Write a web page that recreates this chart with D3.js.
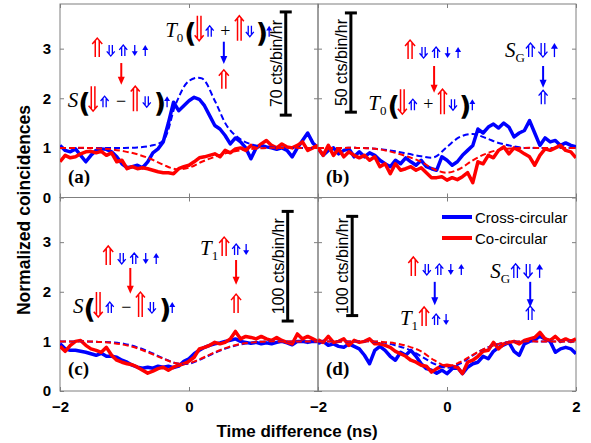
<!DOCTYPE html>
<html>
<head>
<meta charset="utf-8">
<script src="https://cdn.jsdelivr.net/npm/d3@7"></script>
<style>
body { margin: 0; background: #fff; }
svg { display: block; }
</style>
</head>
<body>
<svg id="chart"></svg>
<script>
// time axis of the measured traces and of the model curves (ns)
const tData = d3.range(0, 51).map(i => -2 + i * 0.08)
const tFit = d3.range(0, 21).map(i => -2 + i * 0.2)

// (a)
const aCross = [1.05,0.95,0.92,0.98,0.85,0.72,0.85,0.95,0.98,0.97,0.92,0.82,0.68,0.6,0.62,0.65,0.6,0.72,0.9,0.98,1.12,1.5,1.92,1.75,1.85,1.95,2.02,1.98,1.85,1.65,1.45,1.38,1.25,1.08,1.2,1.12,1.0,0.78,1.0,1.05,1.02,1.0,0.97,1.0,0.95,0.82,1.0,1.15,1.3,1.1,1.0]
const aCo = [0.72,0.85,0.8,0.82,0.88,0.92,0.93,0.9,0.93,0.85,0.9,0.72,0.75,0.58,0.62,0.58,0.6,0.58,0.55,0.52,0.5,0.5,0.48,0.58,0.62,0.65,0.72,0.8,0.82,0.85,0.88,0.82,0.95,0.9,0.98,1.0,0.95,1.05,1.0,1.08,1.15,1.05,1.0,1.08,1.02,1.0,1.05,1.12,0.95,1.0,1.05]
const aCrossFit = [1,1,1,1,1,1,1.01,1.04,1.15,1.9,2.35,2.4,1.95,1.42,1.17,1.06,1.02,1,1,1,1]
const aCoFit = [1,1,1,0.99,0.97,0.93,0.87,0.78,0.66,0.57,0.6,0.72,0.82,0.9,0.95,0.98,1,1,1,1,1]

// (b)
const bCross = [1.0,0.85,0.95,1.0,0.88,0.95,0.98,0.82,0.92,0.82,0.9,0.85,0.75,0.68,0.62,0.75,0.68,0.8,0.72,0.65,0.75,0.62,0.58,0.55,0.82,0.75,0.65,0.72,0.85,0.95,1.05,1.38,1.3,1.42,1.48,1.4,1.5,1.42,1.22,1.3,1.35,1.55,1.3,1.05,1.2,1.12,1.15,1.05,1.1,1.05,1.02]
const bCo = [1.0,0.85,1.05,0.85,0.98,0.82,0.92,0.85,0.8,0.85,0.75,0.82,0.62,0.68,0.48,0.68,0.55,0.58,0.62,0.55,0.6,0.5,0.4,0.4,0.42,0.35,0.4,0.36,0.42,0.5,0.3,0.72,0.68,0.85,0.8,0.95,1.02,0.88,1.0,0.95,0.88,0.82,0.65,0.85,0.98,0.95,1.0,1.05,0.95,0.92,0.8]
const bCrossFit = [1,1,1,1,0.99,0.97,0.93,0.88,0.83,0.81,1.02,1.22,1.28,1.2,1.1,1.04,1,1,1,1,1]
const bCoFit = [1,1,1,1,0.99,0.96,0.9,0.82,0.72,0.57,0.5,0.58,0.75,0.88,0.96,0.99,1,1,1,1,1]

// (c)
const cCross = [0.95,0.85,0.82,0.82,0.8,0.78,0.75,0.72,0.76,0.7,0.7,0.68,0.62,0.58,0.52,0.48,0.46,0.48,0.46,0.5,0.48,0.5,0.47,0.5,0.6,0.65,0.75,0.82,0.88,0.92,0.95,0.97,1.0,1.02,1.05,1.0,0.98,0.96,0.98,0.95,0.97,0.95,0.98,1.0,0.97,0.93,1.0,1.0,0.98,1.0,1.0]
const cCo = [0.9,0.8,0.92,1.0,1.02,0.92,0.85,0.82,0.78,0.88,0.72,0.62,0.58,0.55,0.53,0.48,0.42,0.36,0.4,0.45,0.48,0.42,0.48,0.52,0.55,0.6,0.68,0.85,0.88,0.92,0.98,0.95,0.98,1.05,1.2,1.05,1.1,1.08,1.05,1.1,1.05,1.02,1.08,1.02,0.98,0.95,1.15,1.05,1.1,1.05,1.0]
const cCrossFit = [1,1,1,0.99,0.98,0.95,0.88,0.78,0.66,0.56,0.55,0.65,0.77,0.87,0.94,0.98,1,1,1,1,1]
const cCoFit = [1,1,1,0.99,0.97,0.93,0.86,0.76,0.65,0.56,0.56,0.66,0.78,0.88,0.95,0.98,1,1,1,1,1]

// (d)
const dCross = [0.96,1.0,0.92,0.95,0.9,0.88,0.95,0.9,0.85,0.72,0.55,0.82,0.9,0.82,0.7,0.62,0.78,0.72,0.82,0.7,0.55,0.45,0.42,0.36,0.42,0.35,0.45,0.48,0.35,0.48,0.55,0.58,0.7,0.65,0.8,0.88,0.93,0.98,0.8,0.72,0.95,1.0,1.03,1.1,1.05,1.0,0.78,0.85,0.88,0.85,0.75]
const dCo = [1.03,0.98,1.1,0.98,1.0,1.05,0.92,1.02,0.98,1.0,1.05,0.95,0.95,0.92,0.88,0.8,0.75,0.7,0.62,0.58,0.52,0.5,0.38,0.45,0.5,0.52,0.5,0.48,0.35,0.58,0.62,0.7,0.8,0.82,0.98,0.85,0.95,0.98,1.0,0.95,1.02,1.05,1.08,1.18,1.05,1.02,1.1,1.0,1.05,1.0,1.05]
const dCrossFit = [1,1,1,1,1,0.98,0.92,0.84,0.7,0.55,0.47,0.55,0.72,0.86,0.95,0.99,1,1,1,1,1]
const dCoFit = [1,1,1,1,1,0.99,0.96,0.9,0.8,0.62,0.5,0.58,0.73,0.86,0.95,0.99,1,1,1,1,1]

const panelLetters = ["(a)", "(b)", "(c)", "(d)"]
const scaleLabels = ["70 cts/bin/hr", "50 cts/bin/hr", "100 cts/bin/hr", "100 cts/bin/hr"]
const seriesNames = ["Cross-circular", "Co-circular"]
const yTicks = [0, 1, 2, 3]

// spin-state rows: [glyph, style]
const rowInit = [["⇑", "R"], ["⇓", "b"], ["⇑", "b"], ["↓", "b"], ["↑", "b"]]
const rowS = [["S", "L"], ["(", "P"], ["⇓", "Rb"], ["⇑", "b"], ["−", "O"], ["⇑", "Rb"], ["⇓", "b"], [")", "P"], ["↑", "b"]]
const rowT0 = [["T", "L"], ["0", "s"], ["(", "P"], ["⇓", "Rb"], ["⇑", "b"], ["+", "O"], ["⇑", "Rb"], ["⇓", "b"], [")", "P"], ["↑", "b"]]
const rowT1 = [["T", "L"], ["1", "s"], ["⇑", "R"], ["⇑", "b"], ["↓", "b"]]
const rowSG = [["S", "L"], ["G", "s"], ["⇑", "B"], ["⇓", "B"], ["↑", "B"]]

const BLUE = "#0000ff"
const RED = "#ff0000"

const svgWidth = 591
const svgHeight = 443
const margin = { left: 60, top: 4, right: 15, bottom: 52 }
const pw = (svgWidth - margin.left - margin.right) / 2
const ph = (svgHeight - margin.top - margin.bottom) / 2

// arrows are drawn as paths, text pieces as text
const arrowStyle = {
    R: { color: RED, h: 19, w: 10, below: 1 },
    Rb: { color: RED, h: 25, w: 9, below: 4 },
    b: { color: BLUE, h: 11, w: 8, below: 0 },
    B: { color: BLUE, h: 14, w: 9, below: 0 }
}
const textStyle = {
    P: { font: "'DejaVu Sans'", size: 27, weight: "bold", dy: 5, after: -2 },
    L: { font: "'Liberation Serif'", size: 21, style: "italic", after: 0 },
    s: { font: "'Liberation Serif'", size: 13, dy: 5, after: 1 },
    O: { font: "'Liberation Serif'", size: 18, pad: 4.5, after: 0 }
}

const svg = d3.select("#chart")
    .attr("width", svgWidth)
    .attr("height", svgHeight)
    .style("font-family", "'Liberation Sans', Arial, sans-serif")

const x = d3.scaleLinear().domain([-2, 2]).range([0, pw])
const y = d3.scaleLinear().domain([0, 3.9]).range([ph, 0])

// draw one arrow glyph with its left edge at x0 and baseline at yb, return its width
function drawArrow(g, x0, yb, glyph, key) {
    const st = arrowStyle[key]
    const isDouble = glyph == "⇑" || glyph == "⇓"
    const up = glyph == "⇑" || glyph == "↑"
    const w = isDouble ? st.w : st.w - 2
    const xc = x0 + w / 2
    const bot = yb + st.below
    const top = bot - st.h
    const tip = up ? top : bot
    const tail = up ? bot : top
    const s = up ? 1 : -1
    const sw = key.startsWith("R") ? 1.5 : 1.3
    if (isDouble) {
        const hh = w * 0.6
        g.append("path")
            .attr("d", `M${xc - w / 2},${tip + s * hh} L${xc},${tip} L${xc + w / 2},${tip + s * hh}`
                + ` M${xc - w * 0.2},${tip + s * w * 0.25} L${xc - w * 0.2},${tail}`
                + ` M${xc + w * 0.2},${tip + s * w * 0.25} L${xc + w * 0.2},${tail}`)
            .attr("fill", "none").attr("stroke", st.color).attr("stroke-width", sw)
    } else {
        const hh = w * 0.8
        g.append("path")
            .attr("d", `M${xc},${tip + s * hh * 0.8} L${xc},${tail}`)
            .attr("stroke", st.color).attr("stroke-width", sw)
        g.append("path")
            .attr("d", `M${xc - w / 2},${tip + s * hh} L${xc},${tip} L${xc + w / 2},${tip + s * hh} Z`)
            .attr("fill", st.color)
    }
    return w
}

function drawText(g, x0, yb, txt, key) {
    const st = textStyle[key]
    const pad = st.pad || 0
    const t = g.append("text")
        .attr("x", x0 + pad).attr("y", yb + (st.dy || 0))
        .style("font-family", st.font)
        .style("font-size", st.size + "px")
        .style("font-weight", st.weight || "normal")
        .style("font-style", st.style || "normal")
        .text(txt)
    return t.node().getComputedTextLength() + 2 * pad + st.after
}

function spinRow(g, x0, yb, items, gap) {
    let cx = x0
    items.forEach(([glyph, key]) => {
        if (arrowStyle[key]) cx += drawArrow(g, cx, yb, glyph, key) + gap
        else cx += drawText(g, cx, yb, glyph, key)
    })
}

function centredArrow(g, xc, yb, glyph, key) {
    drawArrow(g, xc - arrowStyle[key].w / 2, yb, glyph, key)
}

function downArrow(g, xc, yTop, yBot, color) {
    g.append("line")
        .attr("x1", xc).attr("x2", xc)
        .attr("y1", yTop).attr("y2", yBot - 6)
        .attr("stroke", color).attr("stroke-width", 2)
    g.append("path")
        .attr("d", `M${xc - 3.5},${yBot - 8} L${xc + 3.5},${yBot - 8} L${xc},${yBot} Z`)
        .attr("fill", color)
}

const panels = [
    { col: 0, row: 0, cross: aCross, co: aCo, crossFit: aCrossFit, coFit: aCoFit, bar: [1.50, 1.66, 3.74] },
    { col: 1, row: 0, cross: bCross, co: bCo, crossFit: bCrossFit, coFit: bCoFit, bar: [-1.49, 1.72, 3.72] },
    { col: 0, row: 1, cross: cCross, co: cCo, crossFit: cCrossFit, coFit: cCoFit, bar: [1.53, 1.41, 3.62] },
    { col: 1, row: 1, cross: dCross, co: dCo, crossFit: dCrossFit, coFit: dCoFit, bar: [-1.47, 1.52, 3.52] }
]

const lineData = d3.line()
    .x(d => x(d[0]))
    .y(d => y(d[1]))

const lineFit = d3.line()
    .x(d => x(d[0]))
    .y(d => y(d[1]))
    .curve(d3.curveCatmullRom)

panels.forEach((p, i) => {
    const g = svg.append("g")
        .attr("transform", `translate(${margin.left + p.col * pw},${margin.top + p.row * ph})`)

    g.append("clipPath").attr("id", "clip" + i)
        .append("rect").attr("width", pw).attr("height", ph)

    // axes: inward ticks on all four sides
    const left = g.append("g").call(d3.axisLeft(y).tickValues(yTicks).tickSize(-4).tickPadding(9)
        .tickFormat(p.col == 0 ? d3.format("d") : ""))
    const right = g.append("g").attr("transform", `translate(${pw},0)`)
        .call(d3.axisRight(y).tickValues(yTicks).tickSize(-4).tickFormat(""))
    const top = g.append("g").call(d3.axisTop(x).tickValues([-2, 0, 2]).tickSize(-4).tickFormat(""))
    const xt = p.col == 0 ? [-2, 0] : [-2, 0, 2]
    const bottom = g.append("g").attr("transform", `translate(0,${ph})`)
        .call(d3.axisBottom(x).tickValues(xt).tickSize(-4).tickPadding(10)
            .tickFormat(p.row == 1 ? d3.format("d") : ""))
    ;[left, right, top, bottom].forEach(a => {
        a.select(".domain").remove()
        a.selectAll("line").attr("stroke", "#7f7f7f")
        a.selectAll("text")
            .style("font-family", "'Liberation Sans', Arial, sans-serif")
            .style("font-size", "15px")
            .style("font-weight", "bold")
            .attr("fill", "#000")
    })
    g.append("rect")
        .attr("width", pw).attr("height", ph)
        .attr("fill", "none").attr("stroke", "#7f7f7f").attr("stroke-width", 1)

    const plot = g.append("g").attr("clip-path", `url(#clip${i})`)
    plot.append("path")
        .datum(tData.map((t, k) => [t, p.cross[k]]))
        .attr("d", lineData)
        .attr("fill", "none").attr("stroke", BLUE).attr("stroke-width", 3.5)
        .attr("stroke-linejoin", "round")
    plot.append("path")
        .datum(tData.map((t, k) => [t, p.co[k]]))
        .attr("d", lineData)
        .attr("fill", "none").attr("stroke", RED).attr("stroke-width", 3.5)
        .attr("stroke-linejoin", "round")
    plot.append("path")
        .datum(tFit.map((t, k) => [t, p.crossFit[k]]))
        .attr("d", lineFit)
        .attr("fill", "none").attr("stroke", BLUE).attr("stroke-width", 2)
        .attr("stroke-dasharray", "6,3")
    plot.append("path")
        .datum(tFit.map((t, k) => [t, p.coFit[k]]))
        .attr("d", lineFit)
        .attr("fill", "none").attr("stroke", RED).attr("stroke-width", 2)
        .attr("stroke-dasharray", "6,3")

    // panel letter
    g.append("text")
        .attr("x", 8).attr("y", ph - (p.row == 0 ? 15 : 16))
        .style("font-family", "'Liberation Serif', 'Times New Roman', serif")
        .style("font-size", "19px").style("font-weight", "bold")
        .text(panelLetters[i])

    // scale bar
    const bx = x(p.bar[0]), by0 = y(p.bar[1]), by1 = y(p.bar[2])
    g.append("line").attr("x1", bx).attr("x2", bx).attr("y1", by0).attr("y2", by1)
        .attr("stroke", "#000").attr("stroke-width", 3)
    ;[by0, by1].forEach(yy => g.append("line")
        .attr("x1", bx - 6).attr("x2", bx + 6).attr("y1", yy).attr("y2", yy)
        .attr("stroke", "#000").attr("stroke-width", 3))
    g.append("text")
        .attr("transform", `translate(${bx - 4},${(by0 + by1) / 2}) rotate(-90)`)
        .attr("text-anchor", "middle")
        .style("font-size", "16px")
        .text(scaleLabels[i])

    p.g = g
})

// annotations
const [gA, gB, gC, gD] = panels.map(p => p.g)

spinRow(gA, x(-1.50), y(2.85), rowInit, 4.5)
downArrow(gA, x(-1.05), y(2.71), y(2.27), RED)
spinRow(gA, x(-1.88), y(1.82), rowS, 3)
spinRow(gA, x(-0.37), y(3.24), rowT0, 2)
downArrow(gA, x(0.54), y(3.14), y(2.69), BLUE)
centredArrow(gA, x(0.54), y(2.21), "⇑", "R")

spinRow(gB, x(-0.65), y(2.81), rowInit, 4.5)
downArrow(gB, x(-0.20), y(2.65), y(2.11), RED)
spinRow(gB, x(-1.22), y(1.76), rowT0, 2)
spinRow(gB, x(0.90), y(2.83), rowSG, 3.5)
downArrow(gB, x(1.49), y(2.65), y(2.21), BLUE)
centredArrow(gB, x(1.49), y(1.88), "⇑", "B")

spinRow(gC, x(-1.33), y(2.56), rowInit, 4.5)
downArrow(gC, x(-0.91), y(2.48), y(1.96), RED)
spinRow(gC, x(-1.80), y(1.57), rowS, 3)
spinRow(gC, x(0.17), y(2.74), rowT1, 3)
downArrow(gC, x(0.73), y(2.64), y(2.14), RED)
centredArrow(gC, x(0.73), y(1.59), "⇑", "R")

spinRow(gD, x(-0.60), y(2.34), rowInit, 4.5)
downArrow(gD, x(-0.19), y(2.20), y(1.73), BLUE)
spinRow(gD, x(-0.73), y(1.33), rowT1, 3)
spinRow(gD, x(0.67), y(2.28), rowSG, 3.5)
downArrow(gD, x(1.29), y(2.20), y(1.69), BLUE)
centredArrow(gD, x(1.29), y(1.43), "⇑", "B")

// legend in (d)
const legend = gD.append("g").attr("transform", "translate(124,0)")
seriesNames.forEach((name, k) => {
    const ly = 19.5 + k * 21
    legend.append("line").attr("x1", 0).attr("x2", 30).attr("y1", ly).attr("y2", ly)
        .attr("stroke", k == 0 ? BLUE : RED).attr("stroke-width", 4)
    legend.append("text").attr("x", 33).attr("y", ly + 5.5)
        .style("font-size", "15px")
        .text(name)
})

// axis titles
svg.append("text")
    .attr("transform", "translate(30,210) rotate(-90)")
    .attr("text-anchor", "middle")
    .style("font-size", "17.5px").style("font-weight", "bold")
    .text("Normalized coincidences")

svg.append("text")
    .attr("x", 297).attr("y", 437)
    .attr("text-anchor", "middle")
    .style("font-size", "17px").style("font-weight", "bold")
    .text("Time difference (ns)")
</script>
</body>
</html>
